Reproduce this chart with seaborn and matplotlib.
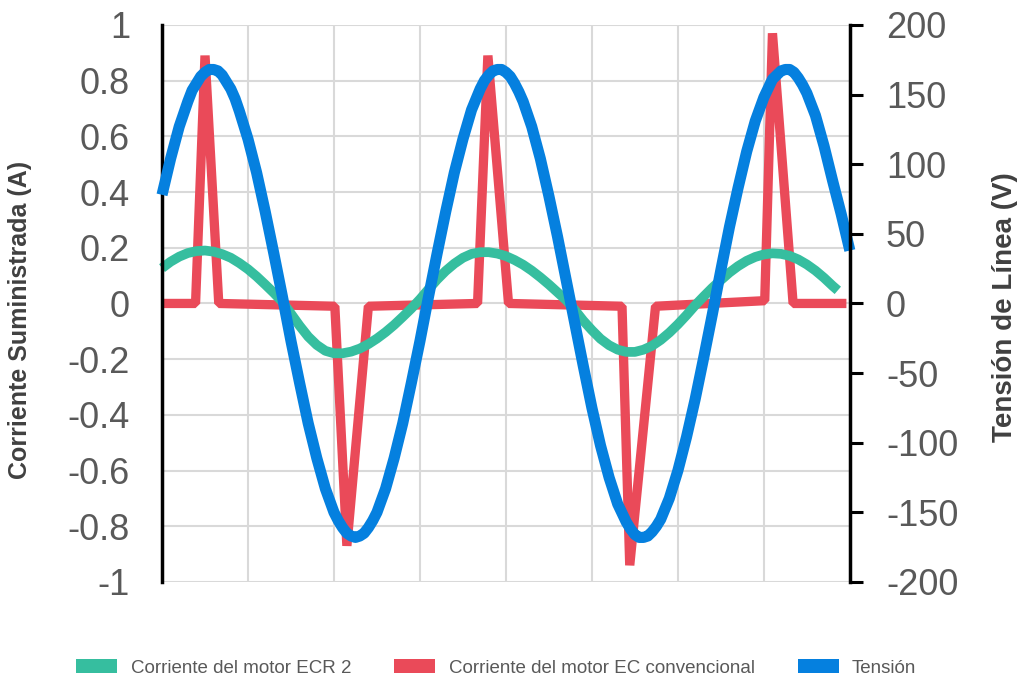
import numpy as np
import pandas as pd
import matplotlib
matplotlib.use("Agg")
import matplotlib.pyplot as plt
from matplotlib.patches import Patch
import seaborn as sns

# ---- data (time in ms, currents in A, voltage in V) ----
volt_t = [0, 0.5, 1, 1.5, 2, 2.5, 3, 3.5, 4, 4.5, 5, 5.5, 6, 6.5, 7, 7.5, 8, 8.5, 9, 9.5,
          10, 10.5, 11, 11.5, 12, 12.5, 13, 13.5, 14, 14.5, 15, 15.5, 16, 16.5, 17, 17.5, 18, 18.5, 19, 19.5,
          20, 20.5, 21, 21.5, 22, 22.5, 23, 23.5, 24, 24.5, 25, 25.5, 26, 26.5, 27, 27.5, 28, 28.5, 29, 29.5,
          30, 30.5, 31, 31.5, 32, 32.5, 33, 33.5, 34, 34.5, 35, 35.5, 36, 36.5, 37, 37.5, 38, 38.5, 39, 39.5, 40]
volt_v = [78, 104, 127, 145, 158, 166, 168, 164, 154, 138, 118, 94, 66, 36, 5, -27, -57, -86, -111, -133,
          -150, -161, -167, -167, -161, -150, -133, -111, -86, -57, -27, 5, 36, 66, 94, 118, 139, 154, 164, 168,
          166, 158, 145, 127, 104, 77, 48, 17, -14, -45, -75, -102, -125, -144, -157, -166, -168, -164, -155, -140,
          -120, -96, -69, -39, -8, 24, 55, 83, 109, 131, 148, 161, 167, 168, 162, 151, 135, 113, 88, 64, 38]
# extra readings around the crests and troughs of the voltage
volt_t_crest = [1.75, 2.25, 2.75, 3.25, 3.75, 4.25, 10.25, 10.75, 11.25, 11.75, 12.25,
                18.75, 19.25, 19.75, 20.25, 20.75, 27.25, 27.75, 28.25, 28.75,
                35.75, 36.25, 36.75, 37.25]
volt_v_crest = [153, 163, 168, 167, 159, 147, -156, -165, -168, -165, -156,
                160, 167, 168, 163, 152, -162, -168, -167, -160,
                164, 168, 166, 157]

ecr_t = [0, 0.5, 1, 1.5, 2, 2.5, 3, 3.5, 4, 4.5, 5, 5.5, 6, 6.5, 7, 7.5, 8, 8.5, 9, 9.5,
         10, 10.5, 11, 11.5, 12, 12.5, 13, 13.5, 14, 14.5, 15, 15.5, 16, 16.5, 17, 17.5, 18, 18.5, 19, 19.5,
         20, 20.5, 21, 21.5, 22, 22.5, 23, 23.5, 24, 24.5, 25, 25.5, 26, 26.5, 27, 27.5, 28, 28.5, 29, 29.5,
         30, 30.5, 31, 31.5, 32, 32.5, 33, 33.5, 34, 34.5, 35, 35.5, 36, 36.5, 37, 37.5, 38, 38.5, 39, 39.3]
ecr_i = [0.127, 0.150, 0.168, 0.181, 0.188, 0.190, 0.186, 0.177, 0.164, 0.145, 0.123, 0.097, 0.068, 0.038,
         0.006, -0.037, -0.080, -0.119, -0.149, -0.170, -0.179, -0.179, -0.173, -0.162, -0.146, -0.126,
         -0.103, -0.077, -0.048, -0.018, 0.015, 0.051, 0.086, 0.117, 0.143, 0.164, 0.178, 0.184, 0.184,
         0.179, 0.170, 0.156, 0.139, 0.118, 0.094, 0.068, 0.040, 0.012, -0.023, -0.062, -0.096, -0.127,
         -0.150, -0.166, -0.174, -0.174, -0.166, -0.152, -0.131, -0.105, -0.075, -0.042, -0.007, 0.025,
         0.056, 0.084, 0.111, 0.134, 0.153, 0.167, 0.176, 0.180, 0.178, 0.171, 0.158, 0.140, 0.118, 0.092,
         0.063, 0.047]

ec_t = [0, 1.95, 2.5, 3.3, 10.05, 10.75, 12.0, 18.35, 18.95, 20.15, 26.75, 27.2, 28.7, 35.05, 35.5, 36.7, 39.8]
ec_i = [0, 0, 0.89, 0.0, -0.01, -0.87, -0.01, 0.0, 0.89, 0.0, -0.01, -0.94, -0.01, 0.01, 0.97, 0.0, 0.0]

labels = ["Corriente del motor ECR 2", "Corriente del motor EC convencional", "Tensión"]
colors = ["#36BE9F", "#EA4A59", "#0580DF"]

left_ticks = ["1", "0.8", "0.6", "0.4", "0.2", "0", "-0.2", "-0.4", "-0.6", "-0.8", "-1"]
right_ticks = ["200", "150", "100", "50", "0", "-50", "-100", "-150", "-200"]

volt = pd.DataFrame({"t": volt_t + volt_t_crest, "v": volt_v + volt_v_crest})
ecr = pd.DataFrame({"t": ecr_t, "i": ecr_i})
ec = pd.DataFrame({"t": ec_t, "i": ec_i})

sns.set_style("white")
plt.rcParams["font.family"] = ["Liberation Sans", "DejaVu Sans"]

fig = plt.figure(figsize=(10.19, 6.81), dpi=100)
ax = fig.add_axes([0.159, 0.1454, 0.675, 0.818])
ax2 = ax.twinx()

line_kw = dict(legend=False, clip_on=False, solid_capstyle="butt")
sns.lineplot(data=ec, x="t", y="i", ax=ax, color=colors[1], linewidth=6.7,
             solid_joinstyle="bevel", **line_kw)
sns.lineplot(data=ecr, x="t", y="i", ax=ax, color=colors[0], linewidth=7, **line_kw)
sns.lineplot(data=volt, x="t", y="v", ax=ax2, color=colors[2], linewidth=8, **line_kw)

# axes ranges / grid
ax.set_xlim(0, 40)
ax.set_ylim(-1, 1)
ax2.set_ylim(-200, 200)
ax.set_xticks(np.linspace(0, 40, 9))
ax.set_xticklabels([])
ax.set_yticks(np.linspace(1, -1, 11))
ax.set_yticklabels(left_ticks)
ax2.set_yticks(np.linspace(200, -200, 9))
ax2.set_yticklabels(right_ticks)
ax.grid(True, color="#d9d9d9", linewidth=1.5)
ax.set_axisbelow(True)
ax.set_xlabel("")
ax.set_ylabel("")
ax2.set_ylabel("")

ax.tick_params(axis="x", length=0)
ax.tick_params(axis="y", length=0, pad=23, labelsize=26, labelcolor="#595959")
ax2.tick_params(axis="y", length=9, width=2.2, color="black", direction="out",
                pad=17, labelsize=26, labelcolor="#595959")

for a in (ax, ax2):
    for s in ("top", "bottom", "left", "right"):
        a.spines[s].set_visible(False)
ax.spines["left"].set_visible(True)
ax.spines["left"].set_color("black")
ax.spines["left"].set_linewidth(2.5)
ax2.spines["right"].set_visible(True)
ax2.spines["right"].set_color("black")
ax2.spines["right"].set_linewidth(2.5)

fig.text(20 / 1019, 1 - 320 / 681, "Corriente Suministrada (A)", rotation=90,
         ha="center", va="center", fontsize=18, fontweight="bold", color="#404040")
fig.text(1005 / 1019, 1 - 307 / 681, "Tensión de Línea (V)", rotation=90,
         ha="center", va="center", fontsize=20, fontweight="bold", color="#404040")

handles = [Patch(facecolor=c, edgecolor="none") for c in colors]
fig.legend(handles=handles, labels=labels, loc="center", bbox_to_anchor=(0.487, 0.019),
           ncol=3, frameon=False, fontsize=13.5, handlelength=2.2, handleheight=0.7,
           handletextpad=0.7, columnspacing=2.3, labelcolor="#595959")

fig.savefig("out.png", dpi=100)
